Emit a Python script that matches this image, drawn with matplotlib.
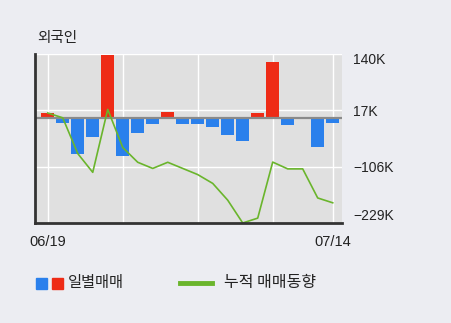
import matplotlib
matplotlib.use('Agg')
import matplotlib.pyplot as plt
from matplotlib.patches import Rectangle
from matplotlib.lines import Line2D

plt.rcParams['font.family'] = ['Liberation Sans', 'Noto Sans CJK KR', 'DejaVu Sans']

# 외국인 일별 순매매 (천주)
daily = [10.5, -10.5, -77.8, -40.9, 137.0, -82.9, -32.2, -13.4, 13.4, -13.4,
         -13.4, -19.2, -36.5, -49.6, 10.5, 122.0, -14.8, 0.0, -63.3, -10.5]
# 누적 매매동향 (천주)
cumul = [10.5, 0.0, -77.8, -118.7, 18.3, -64.6, -96.8, -110.2, -96.8, -110.2,
         -123.6, -142.8, -179.3, -228.9, -218.4, -96.4, -111.2, -111.2, -174.5, -185.0]
ticks_k = [140, 17, -106, -229]
tick_txt = ['140K', '17K', '\u2212106K', '\u2212229K']
first_day = '06/19'
last_day = '07/14'

BG = '#ecedf2'
RED = '#ee2b16'
BLUE = '#2a80ec'
GREEN = '#6ab52c'

fig = plt.figure(figsize=(4.51, 3.23), dpi=100, facecolor=BG)
ax = fig.add_axes([35 / 451, 100 / 323, 307 / 451, 169.5 / 323])
ax.set_facecolor('#e0e0e0')

n = len(daily)
xs = list(range(n))
cols = [RED if v > 0 else BLUE for v in daily]
ax.bar(xs, daily, width=0.87, color=cols, zorder=3)
ax.axhline(0, color='#8a8a8a', lw=1.6, zorder=4)
ax.plot(xs, cumul, color=GREEN, lw=1.2, zorder=5)

ax.set_xlim(-0.85, n - 1 + 0.62)
ax.set_ylim(-229, 140)

# 격자
for gx in [0, 5, 10, 15, 19]:
    ax.axvline(gx, color='white', lw=1.0, zorder=1)
for gy in ticks_k:
    ax.axhline(gy, color='white', lw=1.0, zorder=1)

ax.spines['top'].set_visible(False)
ax.spines['right'].set_visible(False)
ax.spines['left'].set_color('#333333')
ax.spines['bottom'].set_color('#333333')
ax.spines['left'].set_linewidth(2)
ax.spines['bottom'].set_linewidth(2)
ax.spines['left'].set_zorder(6)
ax.spines['bottom'].set_zorder(6)

ax.yaxis.tick_right()
ax.set_yticks(ticks_k)
ax.set_yticklabels(tick_txt)
ax.tick_params(axis='y', length=0, pad=8, labelsize=10, colors='#222222')
labels = ax.get_yticklabels()
labels[0].set_va('top')
labels[-1].set_va('bottom')

ax.set_xticks([0, n - 1])
ax.set_xticklabels([first_day, last_day])
ax.tick_params(axis='x', length=0, pad=9, labelsize=10.5, colors='#222222')

fig.text(37 / 451, 1 - 38 / 323, '외국인', fontsize=10.5, va='center', ha='left',
         color='#222222', family=['Noto Sans CJK KR'])

# 범례
ly = 1 - 283 / 323
fig.add_artist(Rectangle((36 / 451, ly - 5.5 / 323), 11 / 451, 11 / 323,
                         transform=fig.transFigure, color=BLUE))
fig.add_artist(Rectangle((52 / 451, ly - 5.5 / 323), 11 / 451, 11 / 323,
                         transform=fig.transFigure, color=RED))
fig.text(68 / 451, ly, '일별매매', fontsize=11, va='center', ha='left',
         color='#222222', family=['Noto Sans CJK KR'])
fig.add_artist(Line2D([180 / 451, 212 / 451], [ly, ly], transform=fig.transFigure,
                      color=GREEN, lw=3.5))
fig.text(224 / 451, ly, '누적 매매동향', fontsize=11.5, va='center', ha='left',
         color='#222222', family=['Noto Sans CJK KR'])

fig.savefig('out.png', dpi=100, facecolor=BG)
